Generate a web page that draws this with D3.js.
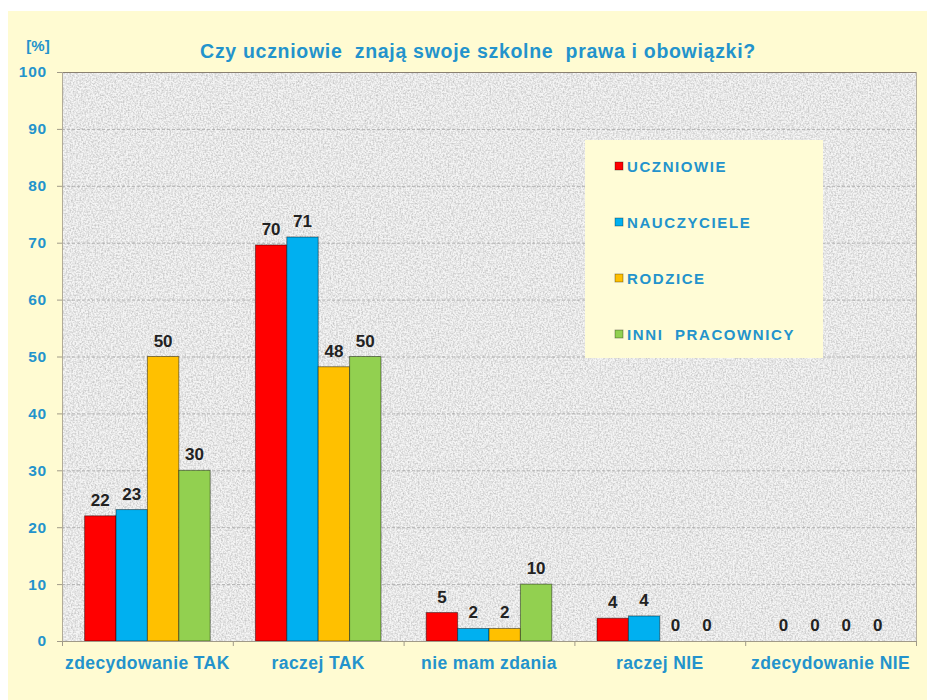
<!DOCTYPE html>
<html>
<head>
<meta charset="utf-8">
<script src="https://cdn.jsdelivr.net/npm/d3@7/dist/d3.min.js"></script>
<style>
  html, body { margin: 0; padding: 0; background: #ffffff; }
  svg { display: block; }
  text { font-family: "Liberation Sans", Arial, sans-serif; font-weight: bold; }
</style>
</head>
<body>
<svg id="chart" width="927" height="700"></svg>
<script>
const categories = ["zdecydowanie TAK", "raczej TAK", "nie mam zdania", "raczej NIE", "zdecydowanie NIE"];
const seriesNames = ["UCZNIOWIE", "NAUCZYCIELE", "RODZICE", "INNI  PRACOWNICY"];
const uczniowie   = [22, 69.6, 5, 4, 0];
const nauczyciele = [23.1, 71, 2.2, 4.4, 0];
const rodzice     = [50, 48.2, 2.2, 0, 0];
const inni        = [30, 50, 10, 0, 0];
const yTicks = [0, 10, 20, 30, 40, 50, 60, 70, 80, 90, 100];
const titleText = "Czy uczniowie  znają swoje szkolne  prawa i obowiązki?";
const yUnit = "[%]";

const seriesValues = [uczniowie, nauczyciele, rodzice, inni];
const colors = ["#ff0000", "#00b0f0", "#ffc000", "#92d050"];
const textBlue = "#2393cc";

const svg = d3.select("#chart");
const W = 927, H = 700;
const plot = { left: 62, right: 916, top: 72, bottom: 641 };

// outer background
svg.append("rect").attr("x", 0).attr("y", 0).attr("width", W).attr("height", H).attr("fill", "#ffffff");
svg.append("rect").attr("x", 8).attr("y", 11).attr("width", W - 8).attr("height", H - 11).attr("fill", "#fffbd2");

// noise filter for plot background
const defs = svg.append("defs");
const f = defs.append("filter").attr("id", "noise").attr("x", 0).attr("y", 0).attr("width", "100%").attr("height", "100%")
  .attr("color-interpolation-filters", "sRGB");
f.append("feTurbulence").attr("type", "fractalNoise").attr("baseFrequency", "0.6").attr("numOctaves", 2).attr("seed", 3).attr("result", "t");
f.append("feColorMatrix").attr("in", "t").attr("type", "matrix")
  .attr("values", "0.7 0 0 0 0.55  0.7 0 0 0 0.55  0.7 0 0 0 0.55  0 0 0 0 0.55");

const x = d3.scaleBand().domain(categories).range([plot.left, plot.right]).paddingInner(0).paddingOuter(0);
const xs = d3.scaleBand().domain(d3.range(seriesNames.length)).range([0, x.bandwidth()]).paddingInner(0).paddingOuter(0.72);
const y = d3.scaleLinear().domain([0, 100]).range([plot.bottom, plot.top]);

// plot background
svg.append("rect").attr("x", plot.left).attr("y", plot.top).attr("width", plot.right - plot.left).attr("height", plot.bottom - plot.top)
  .attr("fill", "#e8e8e8");
svg.append("rect").attr("x", plot.left).attr("y", plot.top).attr("width", plot.right - plot.left).attr("height", plot.bottom - plot.top)
  .attr("filter", "url(#noise)");

// gridlines
svg.append("g").selectAll("line").data(yTicks.filter(d => d > 0 && d < 100)).join("line")
  .attr("x1", plot.left).attr("x2", plot.right)
  .attr("y1", d => y(d) + 0.5).attr("y2", d => y(d) + 0.5)
  .attr("stroke", "#a0a0a0").attr("stroke-width", 1).attr("stroke-dasharray", "3,2").attr("opacity", 0.75);

// frame lines
svg.append("line").attr("x1", plot.left - 5).attr("x2", plot.right).attr("y1", plot.top + 0.5).attr("y2", plot.top + 0.5)
  .attr("stroke", "#8a8070").attr("stroke-width", 1.2);
svg.append("line").attr("x1", plot.left + 0.5).attr("x2", plot.left + 0.5).attr("y1", plot.top).attr("y2", plot.bottom)
  .attr("stroke", "#b0aa98").attr("stroke-width", 1);
svg.append("line").attr("x1", plot.right + 0.5).attr("x2", plot.right + 0.5).attr("y1", plot.top).attr("y2", plot.bottom)
  .attr("stroke", "#b8b2a0").attr("stroke-width", 1);

// bars
const barData = [];
categories.forEach((c, ci) => {
  seriesValues.forEach((vals, si) => barData.push({ c, si, v: vals[ci] }));
});
svg.append("g").selectAll("rect").data(barData.filter(d => d.v > 0)).join("rect")
  .attr("x", d => x(d.c) + xs(d.si))
  .attr("y", d => y(d.v))
  .attr("width", xs.bandwidth())
  .attr("height", d => y(0) - y(d.v))
  .attr("fill", d => colors[d.si])
  .attr("stroke", "rgba(0,0,0,0.45)").attr("stroke-width", 1);

// value labels
svg.append("g").selectAll("text").data(barData).join("text")
  .attr("x", d => x(d.c) + xs(d.si) + xs.bandwidth() / 2)
  .attr("y", d => y(d.v) - 10)
  .attr("text-anchor", "middle")
  .attr("font-size", 17)
  .attr("fill", "#222222")
  .text(d => d3.format(".0f")(d.v));

// y axis
const yAxis = d3.axisLeft(y).tickValues(yTicks).tickSize(5).tickPadding(6).tickFormat(d3.format("d"));
const gy = svg.append("g").attr("transform", `translate(${plot.left},0)`).call(yAxis);
gy.select(".domain").remove();
gy.selectAll(".tick line").attr("stroke", "#a09a88");
gy.selectAll(".tick text").attr("fill", textBlue).attr("font-size", 15.5).attr("letter-spacing", 0.8)
  .attr("font-family", "'Liberation Sans', Arial, sans-serif").attr("font-weight", "bold")
  .attr("dx", -4);

// x axis
const xAxis = d3.axisBottom(x).tickSize(0).tickPadding(16);
const gx = svg.append("g").attr("transform", `translate(0,${plot.bottom})`).call(xAxis);
gx.select(".domain").attr("stroke", "#a09a88");
gx.selectAll(".tick text").attr("fill", textBlue).attr("font-size", 17.5).attr("letter-spacing", 0.4)
  .attr("font-family", "'Liberation Sans', Arial, sans-serif").attr("font-weight", "bold");
// category separators ticks
svg.append("g").selectAll("line").data(categories.map(c => x(c)).concat([plot.right])).join("line")
  .attr("x1", d => d + 0.5).attr("x2", d => d + 0.5).attr("y1", plot.bottom).attr("y2", plot.bottom + 5)
  .attr("stroke", "#a09a88");

// title
svg.append("text").attr("x", 478).attr("y", 58).attr("text-anchor", "middle")
  .attr("font-size", 19.5).attr("letter-spacing", 0.7).attr("fill", textBlue).style("white-space", "pre").text(titleText);
svg.append("text").attr("x", 38).attr("y", 51).attr("text-anchor", "middle")
  .attr("font-size", 15).attr("fill", textBlue).text(yUnit);

// legend
const lg = svg.append("g");
lg.append("rect").attr("x", 585).attr("y", 140).attr("width", 238).attr("height", 218).attr("fill", "#fffcd6");
const items = lg.selectAll("g.item").data(seriesNames).join("g").attr("class", "item")
  .attr("transform", (d, i) => `translate(615,${166 + i * 56})`);
items.append("rect").attr("x", 0).attr("y", -4).attr("width", 8).attr("height", 8)
  .attr("fill", (d, i) => colors[i]).attr("stroke", "rgba(0,0,0,0.4)").attr("stroke-width", 0.8);
items.append("text").attr("x", 12).attr("y", 6).attr("font-size", 15).attr("letter-spacing", 1.6)
  .attr("fill", textBlue).style("white-space", "pre").text(d => d);
</script>
</body>
</html>
